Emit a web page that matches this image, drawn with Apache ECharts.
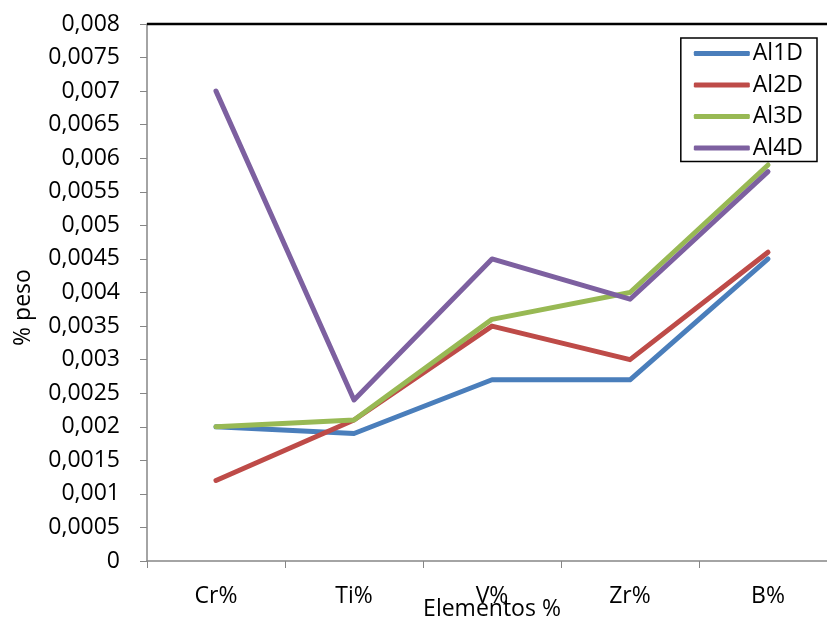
<!DOCTYPE html>
<html><head><meta charset="utf-8">
<script src="https://cdn.jsdelivr.net/npm/echarts@6/dist/echarts.min.js"></script>
<style>html,body{margin:0;padding:0;background:#fff}#c{width:827px;height:619px}</style>
</head><body><div id="c"></div>
<script>
var categories = ['Cr%', 'Ti%', 'V%', 'Zr%', 'B%'];
var al1d = [0.002, 0.0019, 0.0027, 0.0027, 0.0045];
var al2d = [0.0012, 0.0021, 0.0035, 0.003, 0.0046];
var al3d = [0.002, 0.0021, 0.0036, 0.004, 0.0059];
var al4d = [0.007, 0.0024, 0.0045, 0.0039, 0.0058];
var seriesNames = ['Al1D', 'Al2D', 'Al3D', 'Al4D'];
var colors = ['#4a7ebb', '#be4b48', '#98b954', '#7d60a0'];
var font = '"Open Sans", sans-serif';

function fmt(v){
  if (v === 0) return '0';
  var s = v.toFixed(4).replace(/0+$/, '').replace(/\.$/, '');
  return s.replace('.', ',');
}

var chart = echarts.init(document.getElementById('c'), null, {renderer:'canvas'});
var data = [al1d, al2d, al3d, al4d];
chart.setOption({
  animation: false,
  backgroundColor: '#fff',
  textStyle: {fontFamily: font},
  grid: {left: 147, top: 24, width: 690, height: 537, outerBoundsMode: 'none', containLabel: false},
  legend: {
    right: 10, top: 38, orient: 'vertical', itemGap: 8.5,
    itemWidth: 56, itemHeight: 5,
    borderColor: '#000', borderWidth: 1.5, borderRadius: 0,
    padding: [4, 14, 2, 13],
    icon: 'roundRect',
    textStyle: {fontSize: 23, color: '#000', fontFamily: font, padding: [0,0,0,-2]},
    data: seriesNames
  },
  xAxis: {
    type: 'category', data: categories, boundaryGap: true,
    name: 'Elementos %', nameLocation: 'middle', nameGap: 37, nameMoveOverlap: false,
    nameTextStyle: {fontSize: 23, color: '#000', fontFamily: font},
    axisLine: {lineStyle: {color: '#868686', width: 1.5}},
    axisTick: {show: true, length: 7, lineStyle: {color: '#868686', width: 1}},
    axisLabel: {fontSize: 23, color: '#000', margin: 24, fontFamily: font}
  },
  yAxis: {
    type: 'value', min: 0, max: 0.008, interval: 0.0005,
    name: '% peso', nameLocation: 'middle', nameGap: 112, nameRotate: 90, nameMoveOverlap: false,
    nameTextStyle: {fontSize: 23, color: '#000', fontFamily: font, padding: [0, 30, 0, 0]},
    axisLine: {show: true, lineStyle: {color: '#868686', width: 1.5}},
    axisTick: {show: true, length: 7, lineStyle: {color: '#868686', width: 1}},
    splitLine: {show: false},
    axisLabel: {fontSize: 23, color: '#000', margin: 27, formatter: fmt, fontFamily: font}
  },
  graphic: [{
    type: 'line', shape: {x1: 147, y1: 24, x2: 827, y2: 24},
    style: {stroke: '#000', lineWidth: 2.5}, z: 100
  }],
  series: seriesNames.map(function(n, i){
    return {
      name: n, type: 'line', data: data[i],
      symbol: 'none', smooth: false,
      lineStyle: {color: colors[i], width: 5, cap: 'round', join: 'round'},
      itemStyle: {color: colors[i]}
    };
  })
});
</script></body></html>
